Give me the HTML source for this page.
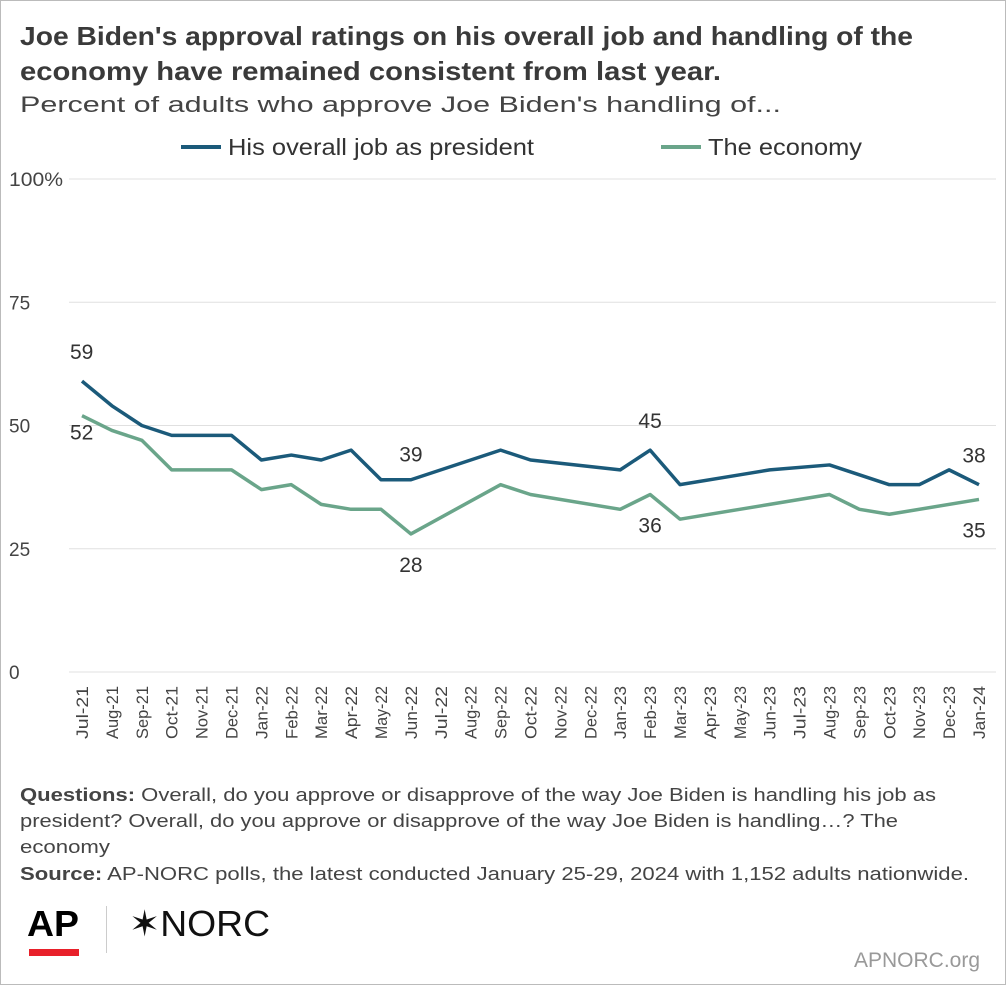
<!DOCTYPE html>
<html><head><meta charset="utf-8"><style>
body{margin:0;background:#fff;font-family:"Liberation Sans",sans-serif;color:#333}
#wrap{position:relative;width:1004px;height:983px;border:1px solid #bbb;overflow:hidden}
svg text{font-family:"Liberation Sans",sans-serif}
</style></head><body>
<div id="wrap">
<svg width="1004" height="983" style="position:absolute;left:0;top:0">
<g font-size="26" font-weight="bold" fill="#3a3a3a">
<text x="19" y="44" textLength="893" lengthAdjust="spacingAndGlyphs">Joe Biden's approval ratings on his overall job and handling of the</text>
<text x="19" y="79" textLength="701" lengthAdjust="spacingAndGlyphs">economy have remained consistent from last year.</text>
</g>
<text x="19" y="111" font-size="22" fill="#444" textLength="761" lengthAdjust="spacingAndGlyphs">Percent of adults who approve Joe Biden's handling of...</text>
<g font-size="18" fill="#444">
<text x="19" y="800" textLength="916" lengthAdjust="spacingAndGlyphs"><tspan font-weight="bold">Questions:</tspan> Overall, do you approve or disapprove of the way Joe Biden is handling his job as</text>
<text x="19" y="826" textLength="878" lengthAdjust="spacingAndGlyphs">president? Overall, do you approve or disapprove of the way Joe Biden is handling…? The</text>
<text x="19" y="852" textLength="90" lengthAdjust="spacingAndGlyphs">economy</text>
</g>
<text x="19" y="879" font-size="18" fill="#444" textLength="949" lengthAdjust="spacingAndGlyphs"><tspan font-weight="bold">Source:</tspan> AP-NORC polls, the latest conducted January 25-29, 2024 with 1,152 adults nationwide.</text>
<text x="26" y="935" font-size="36" font-weight="bold" fill="#000" textLength="52" lengthAdjust="spacingAndGlyphs">AP</text>
<rect x="28" y="948" width="50" height="7" fill="#e8202a"/>
<rect x="105" y="905" width="1" height="47" fill="#ccc"/>
<text x="128" y="935" font-size="36" fill="#111" textLength="141" lengthAdjust="spacingAndGlyphs">✶NORC</text>
<text x="853" y="966" font-size="21" fill="#999" textLength="126" lengthAdjust="spacingAndGlyphs">APNORC.org</text>
</svg>
<svg id="chart" width="1004" height="730" style="position:absolute;left:0;top:120px"></svg>
</div>
<script>
const months=["Jul-21","Aug-21","Sep-21","Oct-21","Nov-21","Dec-21","Jan-22","Feb-22","Mar-22","Apr-22","May-22","Jun-22","Jul-22","Aug-22","Sep-22","Oct-22","Nov-22","Dec-22","Jan-23","Feb-23","Mar-23","Apr-23","May-23","Jun-23","Jul-23","Aug-23","Sep-23","Oct-23","Nov-23","Dec-23","Jan-24"];
const overall=[59,54,50,48,48,48,43,44,43,45,39,39,null,null,45,43,null,null,41,45,38,null,40,41,null,42,40,38,38,41,38];
const economy=[52,49,47,41,41,41,37,38,34,33,33,28,null,null,38,36,null,null,33,36,31,null,33,34,null,36,33,32,null,null,35];
const yTicks=[0,25,50,75,100];
const yTickLabels=["0","25","50","75","100%"];
const labelsOverall=[[0,"59",-22],[11,"39",-18],[19,"45",-22],[30,"38",-22]];
const labelsEconomy=[[0,"52",24],[11,"28",38],[19,"36",38],[30,"35",38]];
const svg=document.getElementById('chart');const NS="http://www.w3.org/2000/svg";
const x=i=>81+i*(978-81)/30;const y=v=>551-v*4.93;
function mk(t,a,p){const e=document.createElementNS(NS,t);for(const k in a)e.setAttribute(k,a[k]);(p||svg).appendChild(e);return e;}
yTicks.forEach((v,i)=>{
const gl=mk('line',{x1:68,x2:995,y1:y(v),y2:y(v),stroke:'#e0e0e0','stroke-width':1});


const t=mk('text',{x:8,y:y(v)+7,'font-size':19,fill:'#444'});t.textContent=yTickLabels[i];
if(v==100){t.setAttribute('textLength','54');t.setAttribute('lengthAdjust','spacingAndGlyphs');}

});
months.forEach((m,i)=>{const t=mk('text',{transform:`translate(${x(i)+6},${y(0)+14}) rotate(-90)`,'text-anchor':'end','font-size':17,fill:'#444',textLength:m.length>5?53:49,lengthAdjust:'spacingAndGlyphs'});t.textContent=m;

});
function line(d,c,name){let p="";d.forEach((v,i)=>{if(v==null)return;p+=(p?"L":"M")+x(i)+","+y(v);});
const e=mk('path',{d:p,fill:'none',stroke:c,'stroke-width':3.5,'stroke-linejoin':'round'});

}
line(economy,'#6aa58a','economy-line');line(overall,'#1b5a7a','overall-job-line');
function lbl(arr,d,name){arr.forEach(([i,s,dy])=>{const t=mk('text',{x:i==0?x(i)-12:(i==30?x(i)-5:x(i)),y:y(d[i])+dy,'text-anchor':i==0?'start':'middle','font-size':21,fill:'#333'});t.textContent=s;

});}
lbl(labelsOverall,overall,'overall-data-label');lbl(labelsEconomy,economy,'economy-data-label');
[[180,'#1b5a7a','His overall job as president','legend-overall',306],[660,'#6aa58a','The economy','legend-economy',154]].forEach(([lx,c,s,n,w])=>{
const g=mk('g',{});

mk('line',{x1:lx,x2:lx+40,y1:26,y2:26,stroke:c,'stroke-width':4},g);
const t=mk('text',{x:lx+47,y:34,'font-size':23,fill:'#333',textLength:w,lengthAdjust:'spacingAndGlyphs'},g);t.textContent=s;});
</script>
</body></html>
